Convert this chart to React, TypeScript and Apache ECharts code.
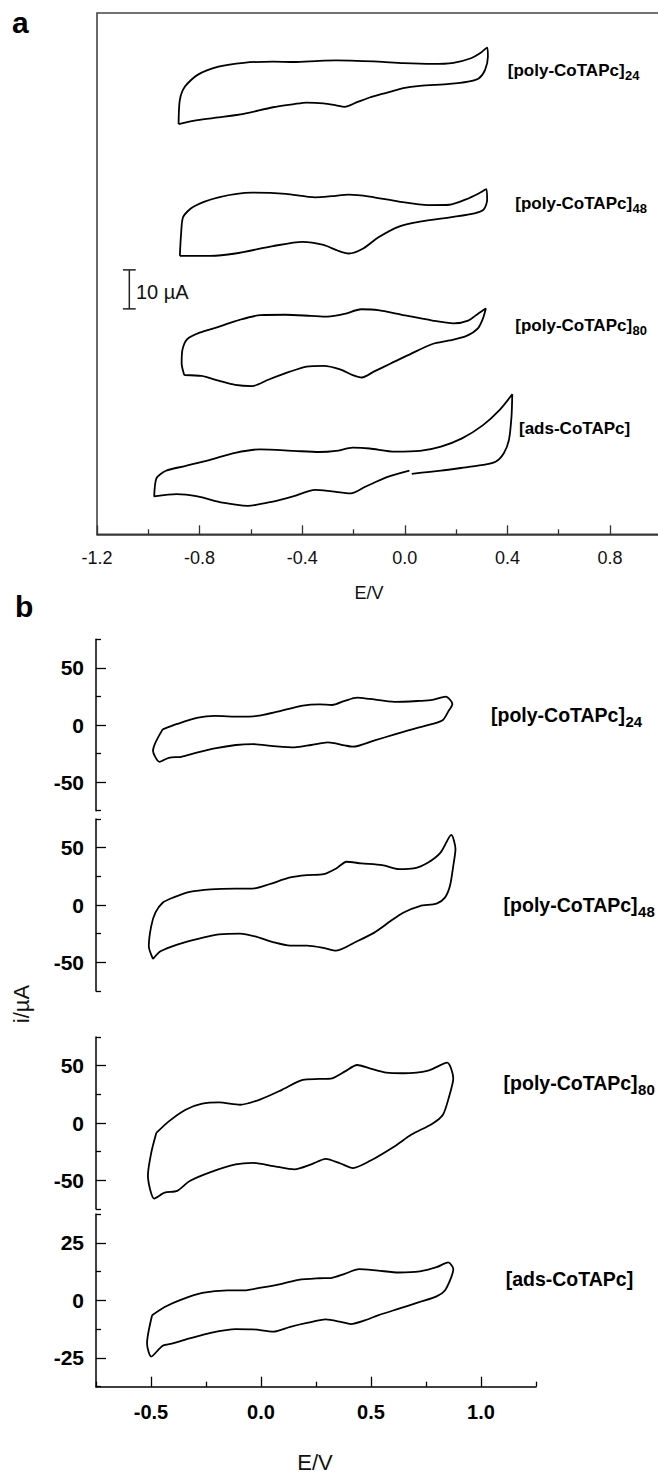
import React, { useEffect, useRef } from "react";
import * as echarts from "echarts";

const FONT = "'Liberation Sans', Arial, Helvetica, sans-serif";

// ---------- Panel a: stacked CVs (E / V, stacked current / µA) ----------
const aPoly24: [number, number][] = [
  [-0.882, 105.2], [-0.877, 111.4], [-0.857, 114.8], [-0.808, 117.8], [-0.726, 119.9], [-0.628, 120.9],
  [-0.514, 121.2], [-0.432, 121.1], [-0.334, 121.4], [-0.268, 121.5], [-0.186, 121.4], [-0.104, 121.2],
  [-0.006, 120.8], [0.108, 120.6], [0.19, 120.9], [0.255, 122.0], [0.296, 123.5], [0.321, 124.8],
  [0.324, 122.5], [0.313, 119.1], [0.288, 116.9], [0.247, 116.1], [0.174, 115.5], [0.059, 115.0],
  [-0.006, 114.4], [-0.072, 113.2], [-0.137, 112.0], [-0.186, 110.8], [-0.235, 109.6], [-0.268, 110.0],
  [-0.317, 110.5], [-0.383, 110.7], [-0.432, 110.3], [-0.514, 109.5], [-0.628, 107.8], [-0.726, 106.9],
  [-0.808, 106.2], [-0.882, 105.2],
];
const aPoly48: [number, number][] = [
  [-0.877, 71.4], [-0.872, 77.2], [-0.864, 81.4], [-0.824, 84.0], [-0.726, 86.4], [-0.595, 87.6],
  [-0.464, 87.3], [-0.35, 86.4], [-0.284, 86.7], [-0.219, 87.1], [-0.137, 86.6], [-0.023, 85.3],
  [0.092, 84.4], [0.174, 84.5], [0.239, 85.9], [0.288, 87.4], [0.318, 88.5], [0.321, 85.7],
  [0.308, 83.3], [0.272, 82.3], [0.19, 81.4], [0.059, 80.2], [-0.023, 78.9], [-0.104, 76.1],
  [-0.162, 73.3], [-0.219, 72.0], [-0.26, 72.7], [-0.317, 74.2], [-0.399, 75.0], [-0.514, 73.9],
  [-0.661, 72.0], [-0.759, 71.4], [-0.877, 71.4],
];
const aPoly80: [number, number][] = [
  [-0.86, 40.85], [-0.87, 43.8], [-0.867, 47.3], [-0.849, 50.0], [-0.8, 51.7], [-0.726, 53.2],
  [-0.644, 55.0], [-0.563, 56.2], [-0.464, 56.3], [-0.366, 56.0], [-0.301, 55.8], [-0.235, 56.5],
  [-0.17, 57.7], [-0.104, 57.5], [-0.006, 56.2], [0.108, 54.8], [0.19, 54.1], [0.247, 54.8],
  [0.288, 56.7], [0.316, 57.9], [0.305, 55.4], [0.285, 52.8], [0.239, 50.8], [0.174, 49.7],
  [0.108, 48.8], [0.027, 46.4], [-0.055, 43.8], [-0.121, 41.7], [-0.167, 40.2], [-0.203, 40.8],
  [-0.252, 42.3], [-0.317, 43.2], [-0.383, 43.0], [-0.448, 41.7], [-0.53, 39.7], [-0.595, 38.0],
  [-0.661, 38.3], [-0.726, 39.4], [-0.792, 40.6], [-0.86, 40.85],
];
const aAds: [number, number][] = [
  [0.027, 15.5], [0.141, 16.3], [0.25, 17.3], [0.305, 17.8], [0.354, 18.6], [0.386, 20.8],
  [0.406, 24.2], [0.416, 30.2], [0.419, 35.9], [0.37, 31.9], [0.305, 28.0], [0.223, 24.6],
  [0.141, 22.5], [0.059, 21.4], [-0.039, 21.2], [-0.137, 22.0], [-0.203, 22.2], [-0.268, 21.4],
  [-0.334, 21.1], [-0.432, 21.4], [-0.563, 21.8], [-0.661, 20.9], [-0.759, 19.1], [-0.857, 17.5],
  [-0.931, 16.3], [-0.968, 14.4], [-0.977, 9.7], [-0.89, 10.3], [-0.808, 9.7], [-0.71, 8.1],
  [-0.612, 7.3], [-0.514, 8.4], [-0.432, 9.8], [-0.35, 11.4], [-0.284, 11.0], [-0.211, 10.5],
  [-0.154, 12.2], [-0.072, 14.6], [0.018, 16.3],
];
const aXTicks = [-1.2, -0.8, -0.4, 0.0, 0.4, 0.8];
const aXMinor = [-1.0, -0.6, -0.2, 0.2, 0.6, 1.0];
// 10 µA scale bar (in panel a units)
const scaleBarE = -1.074;
const scaleBarFrom = 57.8;
const scaleBarSize = 10;

// ---------- Panel b: separate CVs (E / V, i / µA) ----------
const bPoly24: [number, number][] = [
  [-0.447, -3.8], [-0.381, 0.9], [-0.286, 6.4], [-0.21, 7.9], [-0.095, 7.3], [-0.019, 7.9],
  [0.075, 11.7], [0.19, 17.0], [0.266, 18.1], [0.323, 17.5], [0.38, 21.1], [0.437, 24.0],
  [0.494, 22.8], [0.608, 20.2], [0.722, 21.1], [0.779, 21.9], [0.84, 24.9], [0.87, 18.4],
  [0.851, 11.7], [0.827, 4.4], [0.779, 0.9], [0.703, -2.9], [0.608, -8.2], [0.513, -13.7],
  [0.418, -19.0], [0.38, -17.8], [0.304, -15.2], [0.228, -17.5], [0.152, -19.6], [0.057, -18.4],
  [-0.038, -16.7], [-0.114, -17.5], [-0.21, -20.5], [-0.305, -24.9], [-0.362, -27.8], [-0.419, -28.7],
  [-0.461, -32.2], [-0.491, -22.5], [-0.447, -3.8],
];
const bPoly48: [number, number][] = [
  [-0.491, -47.1], [-0.51, -36.0], [-0.499, -18.4], [-0.48, -6.7], [-0.447, 2.0], [-0.4, 6.4],
  [-0.324, 11.4], [-0.229, 13.7], [-0.115, 14.3], [-0.038, 14.3], [0.037, 18.1], [0.133, 24.0],
  [0.209, 26.0], [0.285, 26.9], [0.342, 31.9], [0.389, 37.7], [0.456, 36.3], [0.551, 34.8],
  [0.627, 31.3], [0.694, 31.9], [0.76, 37.1], [0.817, 45.9], [0.865, 61.1], [0.884, 48.8],
  [0.874, 34.2], [0.859, 16.7], [0.836, 6.4], [0.798, 1.2], [0.722, -0.9], [0.646, -6.7],
  [0.589, -14.0], [0.513, -24.3], [0.437, -31.6], [0.342, -39.8], [0.285, -37.4], [0.209, -35.4],
  [0.133, -35.4], [0.057, -32.5], [-0.019, -27.8], [-0.095, -24.9], [-0.191, -25.7], [-0.286, -29.5],
  [-0.381, -34.5], [-0.457, -40.4], [-0.491, -47.1],
];
const bPoly80: [number, number][] = [
  [-0.476, -8.7], [-0.419, 1.4], [-0.343, 11.6], [-0.267, 16.8], [-0.191, 17.9], [-0.095, 15.9],
  [0.0, 20.8], [0.095, 28.9], [0.19, 37.6], [0.266, 38.4], [0.323, 39.0], [0.38, 44.8],
  [0.437, 50.6], [0.494, 47.7], [0.57, 43.9], [0.646, 43.4], [0.76, 45.7], [0.846, 52.6],
  [0.874, 39.0], [0.855, 23.1], [0.827, 7.2], [0.779, -0.6], [0.684, -10.1], [0.608, -20.2],
  [0.494, -33.2], [0.418, -39.3], [0.361, -35.3], [0.294, -31.2], [0.228, -36.1], [0.152, -40.5],
  [0.057, -37.6], [-0.038, -34.7], [-0.115, -36.1], [-0.229, -42.8], [-0.324, -50.6], [-0.381, -59.2],
  [-0.438, -60.7], [-0.485, -65.9], [-0.514, -45.7], [-0.499, -26.0], [-0.476, -8.7],
];
const bAds: [number, number][] = [
  [-0.495, -6.5], [-0.438, -2.9], [-0.362, 0.3], [-0.267, 3.2], [-0.152, 4.3], [-0.076, 4.3],
  [0.0, 5.5], [0.095, 7.2], [0.171, 8.9], [0.266, 9.6], [0.323, 9.8], [0.38, 11.5],
  [0.446, 13.6], [0.532, 12.9], [0.627, 12.1], [0.722, 12.6], [0.798, 14.4], [0.851, 16.5],
  [0.874, 13.6], [0.865, 10.1], [0.836, 4.3], [0.798, 1.7], [0.722, -0.7], [0.627, -3.6],
  [0.532, -6.5], [0.475, -8.6], [0.408, -10.3], [0.361, -9.3], [0.294, -8.3], [0.209, -9.8],
  [0.133, -11.5], [0.057, -13.6], [-0.038, -12.6], [-0.115, -12.5], [-0.229, -14.1], [-0.324, -16.5],
  [-0.4, -18.7], [-0.447, -19.7], [-0.499, -24.4], [-0.518, -18.7], [-0.495, -6.5],
];
const bXTicks = [-0.5, 0.0, 0.5, 1.0];
const bXMinor = [-0.75, -0.25, 0.25, 0.75, 1.25];
const bYTicksBig = [-50, 0, 50];
const bYMinorBig = [-75, -25, 25, 75];
const bYTicksSmall = [-25, 0, 25];
const bYMinorSmall = [-37.5, -12.5, 12.5, 37.5];

const labelMain = ["[poly-CoTAPc]", "[poly-CoTAPc]", "[poly-CoTAPc]", "[ads-CoTAPc]"];
const labelSub = ["24", "48", "80", ""];

// ---------- layout ----------
const PAGE_W = 658;
const PAGE_H = 1473;
const CHART_W = 730; // wider than the page: panel a's frame runs past the right edge
const aLabelPos = [[507.8, 70], [515.3, 203.3], [515.3, 325], [519, 428.3]];
const bLabelPos = [[491, 715], [503.6, 905], [503.6, 1083], [505.7, 1279]];
const bGrids = [
  { top: 639.3, height: 171.4 },
  { top: 819, height: 172 },
  { top: 1037, height: 172 },
  { top: 1214, height: 172.7 },
];

function measure(text: string, font: string): number {
  const c = document.createElement("canvas").getContext("2d");
  if (!c) return text.length * 8;
  c.font = font;
  return c.measureText(text).width;
}

export default function App() {
  const ref = useRef<HTMLDivElement>(null);
  useEffect(() => {
    if (!ref.current) return;
    const chart = echarts.init(ref.current, undefined, { renderer: "svg" });

    const black = "#000";
    const line = (data: any, xi: number, yi: number, w = 1.8) => ({
      type: "line",
      data,
      xAxisIndex: xi,
      yAxisIndex: yi,
      showSymbol: false,
      symbol: "none",
      smooth: 0.25,
      lineStyle: { color: black, width: w },
      silent: true,
    });
    const straight = (data: any, xi: number, yi: number, w = 1.5) => ({
      type: "line",
      data,
      xAxisIndex: xi,
      yAxisIndex: yi,
      showSymbol: false,
      symbol: "none",
      lineStyle: { color: "#222", width: w },
      silent: true,
    });

    const grids: any[] = [
      {
        left: 97, top: 13, width: 615.6, height: 521.3,
        show: true, borderColor: "#444", borderWidth: 1.6, backgroundColor: "transparent",
      },
      ...bGrids.map((g) => ({ left: 96, width: 440, top: g.top, height: g.height, show: false })),
    ];

    const xAxes: any[] = [
      {
        gridIndex: 0, type: "value", min: -1.2, max: 1.2, position: "bottom",
        axisLine: { show: true, onZero: false, lineStyle: { color: "#333", width: 1.6 } },
        axisTick: { inside: true, length: 9, customValues: aXTicks, lineStyle: { color: "#333", width: 1.3 } },
        axisLabel: {
          customValues: aXTicks, formatter: (v: number) => v.toFixed(1),
          fontSize: 18, color: "#111", fontFamily: FONT, margin: 15,
        },
        splitLine: { show: false },
      },
      {
        gridIndex: 0, type: "value", min: -1.2, max: 1.2, position: "bottom",
        axisLine: { show: false, onZero: false },
        axisTick: { inside: true, length: 5, customValues: aXMinor, lineStyle: { color: "#333", width: 1.3 } },
        axisLabel: { show: false },
        splitLine: { show: false },
      },
      ...[1, 2, 3].map((g) => ({ gridIndex: g, type: "value", min: -0.75, max: 1.25, show: false })),
      {
        gridIndex: 4, type: "value", min: -0.75, max: 1.25, position: "bottom",
        axisLine: { show: true, onZero: false, lineStyle: { color: black, width: 1.5 } },
        axisTick: { inside: true, length: 10, customValues: bXTicks, lineStyle: { color: black, width: 1.3 } },
        axisLabel: {
          customValues: bXTicks, formatter: (v: number) => v.toFixed(1),
          fontSize: 20, fontWeight: "bold", color: black, fontFamily: FONT, margin: 15,
        },
        splitLine: { show: false },
      },
      {
        gridIndex: 4, type: "value", min: -0.75, max: 1.25, position: "bottom",
        axisLine: { show: false, onZero: false },
        axisTick: { inside: true, length: 5, customValues: bXMinor, lineStyle: { color: black, width: 1.3 } },
        axisLabel: { show: false },
        splitLine: { show: false },
      },
    ];

    const yMajor = (g: number, lim: number, ticks: number[]) => ({
      gridIndex: g, type: "value", min: -lim, max: lim, position: "left",
      axisLine: { show: true, onZero: false, lineStyle: { color: black, width: 1.5 } },
      axisTick: { inside: true, length: 10, customValues: ticks, lineStyle: { color: black, width: 1.3 } },
      axisLabel: {
        customValues: ticks, formatter: (v: number) => String(v),
        fontSize: 21, fontWeight: "bold", color: black, fontFamily: FONT, margin: 12,
      },
      splitLine: { show: false },
    });
    const yMinor = (g: number, lim: number, ticks: number[]) => ({
      gridIndex: g, type: "value", min: -lim, max: lim, position: "left",
      axisLine: { show: false, onZero: false },
      axisTick: { inside: true, length: 5, customValues: ticks, lineStyle: { color: black, width: 1.3 } },
      axisLabel: { show: false },
      splitLine: { show: false },
    });

    const yAxes: any[] = [
      { gridIndex: 0, type: "value", min: 0, max: 521.3 / 3.9, show: false },
      yMajor(1, 75, bYTicksBig), yMinor(1, 75, bYMinorBig),
      yMajor(2, 75, bYTicksBig), yMinor(2, 75, bYMinorBig),
      yMajor(3, 75, bYTicksBig), yMinor(3, 75, bYMinorBig),
      yMajor(4, 37.5, bYTicksSmall), yMinor(4, 37.5, bYMinorSmall),
    ];

    const capW = 0.025;
    const sbTop = scaleBarFrom + scaleBarSize;
    const series: any[] = [
      line(aPoly24, 0, 0), line(aPoly48, 0, 0), line(aPoly80, 0, 0), line(aAds, 0, 0),
      straight([[scaleBarE, scaleBarFrom], [scaleBarE, sbTop]], 0, 0),
      straight([[scaleBarE - capW, scaleBarFrom], [scaleBarE + capW, scaleBarFrom]], 0, 0),
      straight([[scaleBarE - capW, sbTop], [scaleBarE + capW, sbTop]], 0, 0),
      line(bPoly24, 2, 1), line(bPoly48, 3, 3), line(bPoly80, 4, 5), line(bAds, 5, 7),
    ];

    const graphics: any[] = [];
    const addLabel = (i: number, x: number, y: number, mainSize: number, subSize: number, subDy: number) => {
      const mainFont = `bold ${mainSize}px ${FONT}`;
      graphics.push({
        type: "text", x, y,
        style: { text: labelMain[i], font: mainFont, fill: black, align: "left", verticalAlign: "middle" },
      });
      if (labelSub[i]) {
        const w = measure(labelMain[i], mainFont);
        graphics.push({
          type: "text", x: x + w + 0.5, y: y + subDy,
          style: { text: labelSub[i], font: `bold ${subSize}px ${FONT}`, fill: black, align: "left", verticalAlign: "middle" },
        });
      }
    };
    aLabelPos.forEach((p, i) => addLabel(i, p[0], p[1], 17, 13, 5));
    bLabelPos.forEach((p, i) => addLabel(i, p[0], p[1], 19.5, 15, 6));

    graphics.push(
      { type: "text", x: 12, y: 22, style: { text: "a", font: `bold 30px ${FONT}`, fill: black, align: "left", verticalAlign: "middle" } },
      { type: "text", x: 15, y: 606, style: { text: "b", font: `bold 30px ${FONT}`, fill: black, align: "left", verticalAlign: "middle" } },
      { type: "text", x: 136, y: 292, style: { text: "10 µA", font: `20px ${FONT}`, fill: "#111", align: "left", verticalAlign: "middle" } },
      { type: "text", x: 369, y: 593, style: { text: "E/V", font: `18px ${FONT}`, fill: "#111", align: "center", verticalAlign: "middle" } },
      { type: "text", x: 315, y: 1462, style: { text: "E/V", font: `22px ${FONT}`, fill: "#111", align: "center", verticalAlign: "middle" } },
      { type: "text", x: 21, y: 1004, rotation: Math.PI / 2, style: { text: "i/µA", font: `22px ${FONT}`, fill: "#111", align: "center", verticalAlign: "middle" } },
    );

    chart.setOption({
      animation: false,
      backgroundColor: "#fff",
      textStyle: { fontFamily: FONT },
      grid: grids,
      xAxis: xAxes,
      yAxis: yAxes,
      series,
      graphic: graphics,
    });
    return () => chart.dispose();
  }, []);
  return (
    <div
      style={{
        position: "absolute", left: 0, top: 0, width: PAGE_W, height: PAGE_H,
        overflow: "hidden", background: "#fff",
      }}
    >
      <div ref={ref} style={{ width: CHART_W, height: PAGE_H }} />
    </div>
  );
}
